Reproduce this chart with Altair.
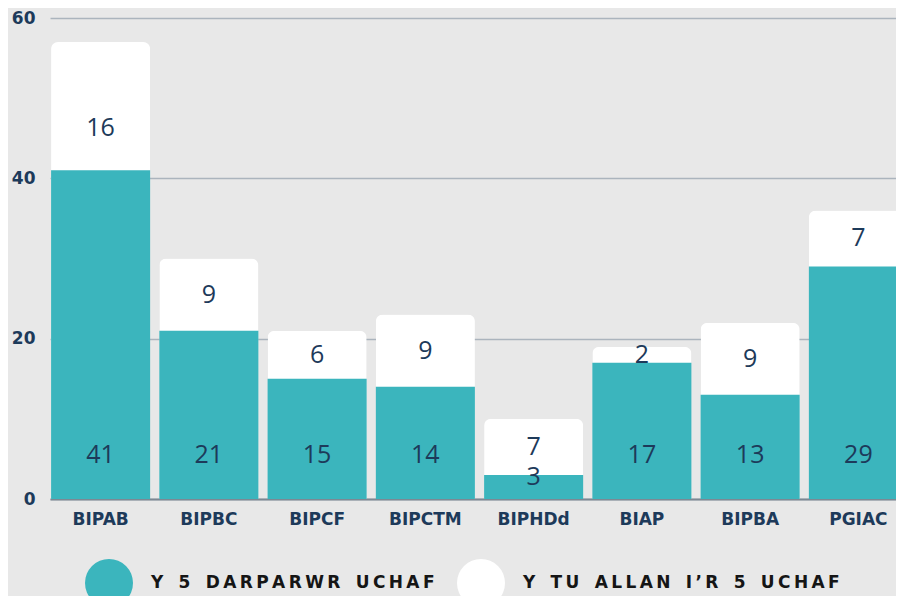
import altair as alt
import pandas as pd

categories = ["BIPAB", "BIPBC", "BIPCF", "BIPCTM", "BIPHDd", "BIAP", "BIPBA", "PGIAC"]
top5 = [41, 21, 15, 14, 3, 17, 13, 29]
outside = [16, 9, 6, 9, 7, 2, 9, 7]
series_names = ["Y 5 DARPARWR UCHAF", "Y TU ALLAN I\u2019R 5 UCHAF"]

TEAL = "#3bb5bd"
WHITE = "#ffffff"
NAVY = "#1d3a5a"
BG = "#e8e8e8"
AXIS_FONT = "DejaVu Sans"
NUM_FONT = "Open Sans"

rows = []
for c, a, b in zip(categories, top5, outside):
    rows.append({"category": c, "series": series_names[0], "value": a})
    rows.append({"category": c, "series": series_names[1], "value": b})
df = pd.DataFrame(rows)


def spaced(s):
    words = s.split(" ")
    return "\u2002\u2009\u2009".join("\u2009".join(list(w)) for w in words)


label_expr = (
    f"datum.label == '{series_names[0]}' ? '{spaced(series_names[0])}' : '{spaced(series_names[1])}'"
)

x_enc = alt.X(
    "category:N",
    sort=categories,
    title=None,
    scale=alt.Scale(paddingInner=0.085, paddingOuter=0.01, range=[0, 859]),
    axis=alt.Axis(
        labelAngle=0,
        labelFont=AXIS_FONT,
        labelFontSize=17,
        labelFontWeight="bold",
        labelColor=NAVY,
        labelPadding=12,
        ticks=False,
        domainColor="#7d8893",
        domainWidth=2,
        grid=False,
    ),
)

y_scale = alt.Scale(domain=[0, 60])
y_axis = alt.Axis(
    values=[0, 20, 40, 60],
    title=None,
    domain=False,
    ticks=False,
    grid=True,
    gridColor="#abb4bd",
    gridWidth=1.5,
    labelFont=AXIS_FONT,
    labelFontSize=17,
    labelFontWeight="bold",
    labelColor=NAVY,
    labelPadding=15,
)

color_enc = alt.Color(
    "series:N",
    scale=alt.Scale(domain=series_names, range=[TEAL, WHITE]),
    legend=alt.Legend(
        title=None,
        orient="none",
        legendX=35,
        legendY=541,
        direction="horizontal",
        symbolType="circle",
        symbolSize=2304,
        symbolStrokeWidth=0,
        symbolOpacity=1,
        labelFont=AXIS_FONT,
        labelFontSize=17,
        labelFontWeight="bold",
        labelColor="#151515",
        labelOffset=18,
        columnPadding=22,
        labelLimit=500,
        labelExpr=label_expr,
    ),
)

base = alt.Chart(df).transform_joinaggregate(total="sum(value)", groupby=["category"])

white_bars = base.transform_filter(alt.datum.series == series_names[1]).mark_bar(
    cornerRadiusTopLeft=7, cornerRadiusTopRight=7
).encode(
    x=x_enc,
    y=alt.Y("total:Q", scale=y_scale, axis=y_axis),
    color=color_enc,
)

teal_bars = base.transform_filter(alt.datum.series == series_names[0]).mark_bar().encode(
    x=alt.X("category:N", sort=categories),
    y=alt.Y("value:Q"),
    color=alt.Color("series:N"),
)

teal_labels = base.transform_filter(alt.datum.series == series_names[0]).transform_calculate(
    pos="min(5.5, datum.value - 0.3)"
).mark_text(font=NUM_FONT, fontSize=25, fontWeight=400, color=NAVY, baseline="middle").encode(
    x=alt.X("category:N", sort=categories),
    y=alt.Y("pos:Q"),
    text="value:Q",
)

white_labels = base.transform_filter(alt.datum.series == series_names[1]).transform_calculate(
    pos="min(datum.total - datum.value / 2, datum.total - datum.value + 5.3)"
).mark_text(font=NUM_FONT, fontSize=25, fontWeight=400, color=NAVY, baseline="middle").encode(
    x=alt.X("category:N", sort=categories),
    y=alt.Y("pos:Q"),
    text="value:Q",
)

chart = (
    alt.layer(white_bars, teal_bars, teal_labels, white_labels)
    .properties(
        width=846,
        height=481,
        background=BG,
        autosize=alt.AutoSizeParams(type="none"),
        padding={"left": 42, "top": 10, "right": 0, "bottom": 97},
    )
    .configure_view(stroke=None)
)

chart.save("out.html", embed_options={"renderer": "svg", "actions": False})
